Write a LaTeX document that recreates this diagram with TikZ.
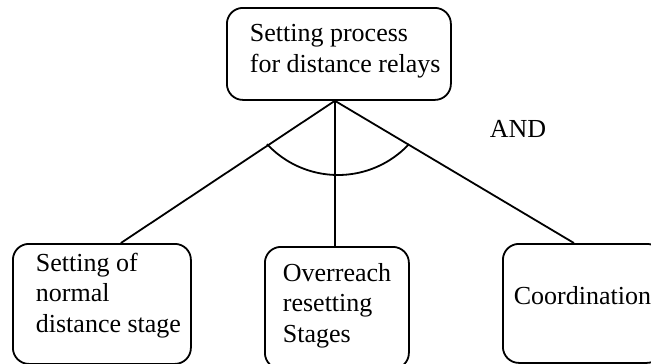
\documentclass[tikz,border=0pt]{standalone}
\usepackage{fontspec}
\setmainfont{Liberation Serif}
\begin{document}
\begin{tikzpicture}[x=1pt,y=-1pt,
  line width=1.8pt,
  box/.style={draw, rounded corners=16pt, anchor=north west, inner sep=0pt},
  % multi-line labels: the base anchor sits on the last line's baseline
  txt/.style={anchor=base west, inner sep=0pt, align=left,
    font=\fontsize{26}{30.5}\selectfont},
  link/.style={line width=1.8pt}]
\useasboundingbox (0,0) rectangle (651,364);
\clip (0,0) rectangle (651,364);

% boxes
\node[box, minimum width=224pt, minimum height=92pt] (top) at (226,7) {};
\node[box, minimum width=178pt, minimum height=120pt] (left) at (12,243) {};
\node[box, minimum width=144pt, minimum height=122pt] (mid) at (264,246) {};
\node[box, minimum width=160pt, minimum height=119pt] (right) at (502,243) {};

% labels
\node[txt] (toptext) at (249,72) {Setting process\\for distance relays};
\node[txt] (lefttext) at (35,332) {Setting of\\normal\\distance stage};
\node[txt] (midtext) at (282,342) {Overreach\\resetting\\Stages};
\node[txt] (righttext) at (513,304) {Coordination};
\node[txt] (andtext) at (489,137) {AND};

% connectors
\coordinate (apex) at ([xshift=-4pt]top.south);
\draw[link] (apex) -- ([xshift=19pt]left.north);
\draw[link] (apex) -- (apex |- mid.north);
\draw[link] (apex) -- ([xshift=-9pt]right.north);

% AND arc (y axis points down, so angles run clockwise on screen)
\draw[link] (338,78) ++(137:97) arc[start angle=137, end angle=43, radius=97];
\end{tikzpicture}
\end{document}
